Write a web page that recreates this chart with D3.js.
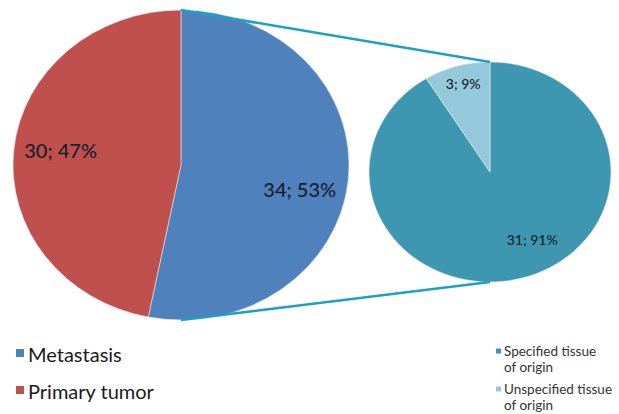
<!DOCTYPE html>
<html>
<head>
<meta charset="utf-8">
<script src="https://cdn.jsdelivr.net/npm/d3@7"></script>
<style>
  html, body { margin: 0; padding: 0; background: #fff; }
  svg { display: block; font-family: Lato, "Open Sans", sans-serif; }
</style>
</head>
<body>
<div id="chart"></div>
<script>
// main pie: tumour type
const mainCategories = ["Metastasis", "Primary tumor"];
const mainValues = [34, 30];
const mainColors = ["#4f81bd", "#c0504d"];

// secondary pie: breakdown of metastasis
const subCategories = ["Specified tissue of origin", "Unspecified tissue of origin"];
const subValues = [31, 3];
const subColors = ["#3e97b1", "#93c9db"];
const subLegendLines = [["Specified tissue", "of origin"], ["Unspecified tissue", "of origin"]];

const W = 619, H = 414;
const BIG = { cx: 181, cy: 165, rx: 168, ry: 155 };
const SMALL = { cx: 490, cy: 172, rx: 121, ry: 110 };

const svg = d3.select("#chart").append("svg")
    .attr("width", W)
    .attr("height", H);

const total = arr => d3.sum(arr);
const fmtLabel = (v, arr) => `${v}; ${Math.round(v / total(arr) * 100)}%`;

// point on an ellipse for a given pie angle (0 = top, clockwise)
function ellipsePoint(geo, angle, f) {
    return [geo.cx + Math.sin(angle) * geo.rx * f, geo.cy - Math.cos(angle) * geo.ry * f];
}

function drawPie(geo, values, colors, labelOpts) {
    const pie = d3.pie().sort(null).value(d => d);
    const arcs = pie(values);
    const arc = d3.arc().innerRadius(0).outerRadius(geo.ry);

    const g = svg.append("g")
        .attr("transform", `translate(${geo.cx},${geo.cy}) scale(${geo.rx / geo.ry},1)`);

    g.selectAll("path")
        .data(arcs)
        .join("path")
        .attr("fill", (d, i) => colors[i])
        .attr("stroke", "#e8e8e8")
        .attr("stroke-width", 0.6)
        .attr("vector-effect", "non-scaling-stroke")
        .attr("d", arc);

    svg.append("g")
        .selectAll("text")
        .data(arcs)
        .join("text")
        .attr("transform", (d, i) => {
            const o = labelOpts[i];
            const [x, y] = ellipsePoint(geo, (d.startAngle + d.endAngle) / 2, o.f);
            return `translate(${x + o.dx},${y + o.dy})`;
        })
        .attr("text-anchor", "middle")
        .attr("dominant-baseline", "central")
        .attr("font-size", labelOpts[0].size)
        .attr("font-weight", 500)
        .attr("fill", "#17202b")
        .text(d => fmtLabel(d.value, values));

    return arcs;
}

// connector lines from the metastasis slice to the secondary pie
const connColor = "#1ba1c6";
const bigTop = ellipsePoint(BIG, 0, 1), bigBottom = ellipsePoint(BIG, Math.PI, 1);
const smallTop = ellipsePoint(SMALL, 0, 1), smallBottom = ellipsePoint(SMALL, Math.PI, 1);

drawPie(BIG, mainValues, mainColors, [
    { f: 0.71, dx: 0, dy: 13, size: 20 },
    { f: 0.72, dx: 0, dy: -4, size: 20 }
]);
drawPie(SMALL, subValues, subColors, [
    { f: 0.64, dx: 21, dy: 0, size: 14 },
    { f: 0.84, dx: 1, dy: 0, size: 14 }
]);

svg.append("g")
    .attr("stroke", connColor)
    .attr("stroke-width", 2.6)
    .selectAll("line")
    .data([[bigTop, smallTop], [bigBottom, smallBottom]])
    .join("line")
    .attr("x1", d => d[0][0]).attr("y1", d => d[0][1])
    .attr("x2", d => d[1][0]).attr("y2", d => d[1][1]);

// left legend
const legL = svg.append("g");
mainCategories.forEach((c, i) => {
    const y = 353 + i * 37;
    legL.append("rect")
        .attr("x", 16).attr("y", y - 4).attr("width", 8).attr("height", 8)
        .attr("fill", mainColors[i]);
    legL.append("text")
        .attr("x", 28).attr("y", y + 1)
        .attr("dominant-baseline", "central")
        .attr("font-size", 20)
        .attr("fill", "#1a1a1a")
        .text(c);
});

// right legend
const legR = svg.append("g");
subLegendLines.forEach((lines, i) => {
    const y = 351 + i * 38;
    legR.append("rect")
        .attr("x", 496).attr("y", y - 2.5).attr("width", 5).attr("height", 5)
        .attr("fill", subColors[i]);
    lines.forEach((t, j) => {
        legR.append("text")
            .attr("x", 504).attr("y", y + j * 15.5)
            .attr("dominant-baseline", "central")
            .attr("font-size", 13.5)
            .attr("fill", "#333")
            .text(t);
    });
});
</script>
</body>
</html>
